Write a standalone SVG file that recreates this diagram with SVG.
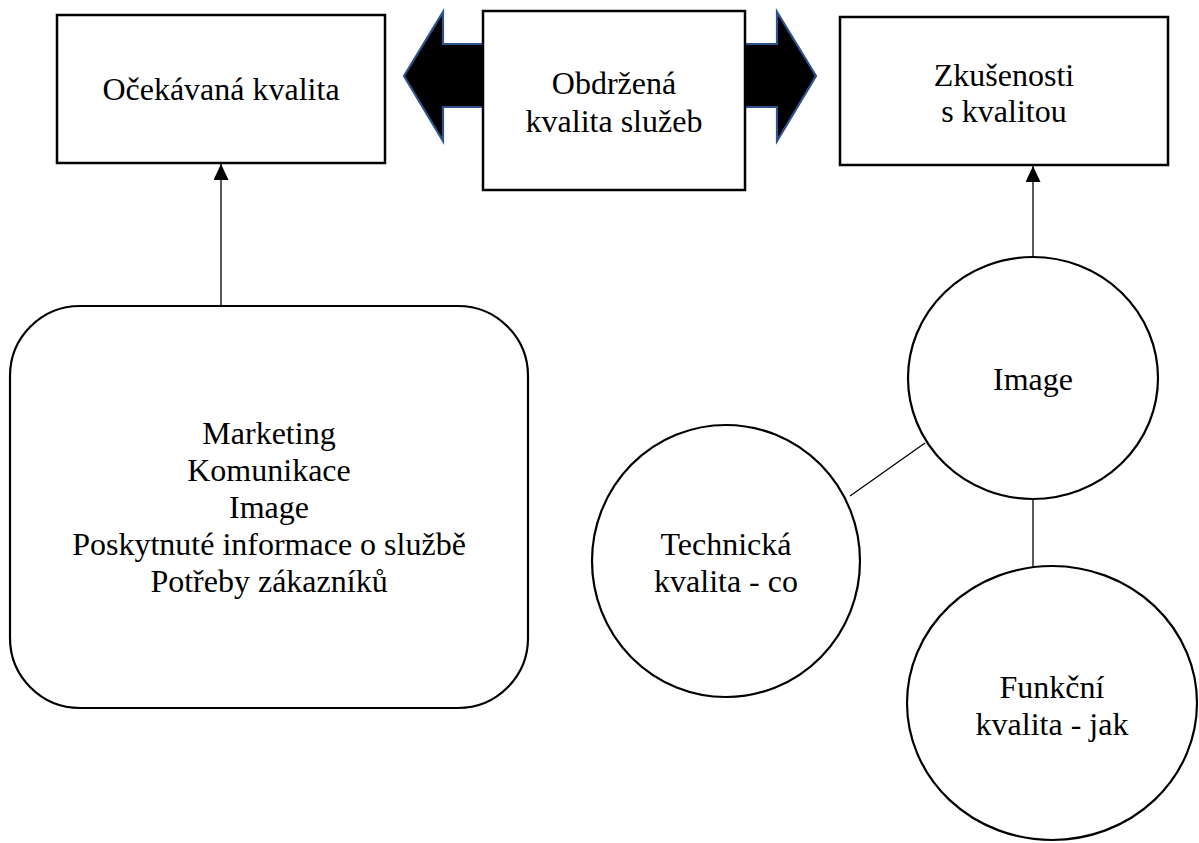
<svg xmlns="http://www.w3.org/2000/svg" width="1199" height="843" viewBox="0 0 1199 843">
  <style>
    .box { fill: #ffffff; stroke: #000000; stroke-width: 2.5; }
    .shape { fill: #ffffff; stroke: #000000; stroke-width: 2.2; }
    .blk { fill: #000000; stroke: #2F528F; stroke-width: 2.2; stroke-linejoin: miter; }
    .conn { fill: none; stroke: #000000; stroke-width: 1.3; }
    .t { font-family: 'Liberation Serif', 'Times New Roman', serif; font-size: 32px; fill: #000000; text-anchor: middle; }
  </style>
  <defs>
    <marker id="arr" viewBox="0 0 16 15" refX="16" refY="7.5" markerWidth="16" markerHeight="15" markerUnits="userSpaceOnUse" orient="auto">
      <path d="M0,0 L16,7.5 L0,15 z" fill="#000000"/>
    </marker>
  </defs>

  <g id="connectors">
    <line class="conn" x1="221" y1="306" x2="221" y2="164" marker-end="url(#arr)"/>
    <line class="conn" x1="1033" y1="257" x2="1033" y2="166" marker-end="url(#arr)"/>
    <line class="conn" x1="850" y1="496" x2="925" y2="443"/>
    <line class="conn" x1="1033" y1="499" x2="1033" y2="566"/>
    <path id="arrow-left" class="blk" d="M483,44 L443,44 L443,12 L404,76 L443,141 L443,107 L483,107 Z"/>
    <path id="arrow-right" class="blk" d="M745,44 L777,44 L777,12 L816,76 L777,141 L777,107 L745,107 Z"/>
  </g>

  <g id="ocekavana">
    <rect class="box" x="57" y="15" width="328" height="148"/>
    <text class="t" x="221" y="100">Očekávaná kvalita</text>
  </g>

  <g id="obdrzena">
    <rect class="box" x="483" y="11" width="262" height="179"/>
    <text class="t" x="614" y="94">Obdržená</text>
    <text class="t" x="614" y="132">kvalita služeb</text>
  </g>

  <g id="zkusenosti">
    <rect class="box" x="840" y="17" width="328" height="148"/>
    <text class="t" x="1004" y="86">Zkušenosti</text>
    <text class="t" x="1004" y="122">s kvalitou</text>
  </g>

  <g id="faktory">
    <rect class="shape" x="10" y="306" width="518" height="402" rx="70" ry="70"/>
    <text class="t" x="269" y="444">Marketing</text>
    <text class="t" x="269" y="481">Komunikace</text>
    <text class="t" x="269" y="518">Image</text>
    <text class="t" x="269" y="555">Poskytnuté informace o službě</text>
    <text class="t" x="269" y="592">Potřeby zákazníků</text>
  </g>

  <g id="image">
    <ellipse class="shape" cx="1033" cy="378" rx="125" ry="121"/>
    <text class="t" x="1033" y="390">Image</text>
  </g>

  <g id="technicka">
    <ellipse class="shape" cx="726" cy="561" rx="134" ry="136"/>
    <text class="t" x="726" y="555">Technická</text>
    <text class="t" x="726" y="592">kvalita - co</text>
  </g>

  <g id="funkcni">
    <ellipse class="shape" cx="1052" cy="703" rx="145" ry="137"/>
    <text class="t" x="1052" y="698">Funkční</text>
    <text class="t" x="1052" y="735">kvalita - jak</text>
  </g>
</svg>
